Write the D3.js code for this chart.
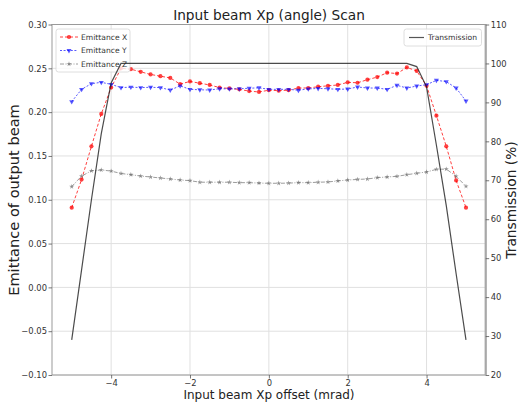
<!DOCTYPE html>
<html><head><meta charset="utf-8">
<script src="https://cdn.jsdelivr.net/npm/d3@7"></script>
<style>
html,body{margin:0;padding:0;background:#fff;}
svg{display:block;font-family:"DejaVu Sans",sans-serif;}
</style></head>
<body><svg id="c" width="518" height="409"></svg>
<script>
const offsets = [-5,-4.75,-4.5,-4.25,-4,-3.75,-3.5,-3.25,-3,-2.75,-2.5,-2.25,-2,-1.75,-1.5,-1.25,-1,-0.75,-0.5,-0.25,0,0.25,0.5,0.75,1,1.25,1.5,1.75,2,2.25,2.5,2.75,3,3.25,3.5,3.75,4,4.25,4.5,4.75,5];
const emitX = [0.091,0.123,0.161,0.198,0.228,0.250,0.249,0.246,0.243,0.241,0.239,0.232,0.235,0.233,0.231,0.228,0.227,0.226,0.224,0.223,0.225,0.2245,0.225,0.2275,0.2275,0.229,0.230,0.231,0.234,0.2335,0.237,0.240,0.245,0.244,0.251,0.247,0.230,0.196,0.161,0.122,0.091];
const emitY = [0.212,0.226,0.2325,0.234,0.2317,0.228,0.2285,0.228,0.2283,0.228,0.2252,0.230,0.226,0.2255,0.2252,0.2267,0.2265,0.2267,0.2272,0.2278,0.226,0.226,0.226,0.225,0.2265,0.227,0.2267,0.226,0.2264,0.2287,0.2275,0.2275,0.226,0.2306,0.2275,0.2298,0.2313,0.2363,0.2348,0.2275,0.2127];
const emitZ = [0.115,0.127,0.133,0.134,0.1327,0.130,0.1286,0.127,0.126,0.1248,0.1237,0.1225,0.1218,0.120,0.120,0.120,0.120,0.1195,0.1195,0.119,0.1188,0.1188,0.119,0.1195,0.1195,0.120,0.1203,0.1215,0.1225,0.1232,0.1237,0.1252,0.126,0.1267,0.1286,0.1302,0.1317,0.1347,0.135,0.1268,0.1153];
const transmission = [29,47,65,82,95,100,100,100,100,100,100,100,100,100,100,100,100,100,100,100,100,100,100,100,100,100,100,100,100,100,100,100,100,100,100,99.2,94,79,63.5,46,29];
const xTicks = [-4,-2,0,2,4];
const yLeftTicks = [-0.10,-0.05,0.00,0.05,0.10,0.15,0.20,0.25,0.30];
const yRightTicks = [20,30,40,50,60,70,80,90,100,110];
const legendLeft = ["Emittance X","Emittance Y","Emittance Z"];

const svg = d3.select("#c");
const L = 52, R = 485.7, T = 24.5, B = 375;
const x = d3.scaleLinear().domain([-5.5,5.5]).range([L,R]);
const yL = d3.scaleLinear().domain([-0.10,0.30]).range([B,T]);
const yR = d3.scaleLinear().domain([20,110]).range([B,T]);
const fmtMinus = s => s.replace("-", "\u2212");

// grid
const g = svg.append("g");
g.selectAll(".gx").data(xTicks).join("line")
  .attr("x1", d=>x(d)).attr("x2", d=>x(d)).attr("y1", T).attr("y2", B)
  .attr("stroke", "#e0e0e0").attr("stroke-width", 1);
g.selectAll(".gy").data(yLeftTicks).join("line")
  .attr("y1", d=>yL(d)).attr("y2", d=>yL(d)).attr("x1", L).attr("x2", R)
  .attr("stroke", "#e0e0e0").attr("stroke-width", 1);

// series
const series = [
  {vals: emitX, color:"rgba(255,0,0,0.75)", dash:"3,2", marker:"circle"},
  {vals: emitY, color:"rgba(0,0,255,0.65)", dash:"2,1.6", marker:"tri"},
  {vals: emitZ, color:"rgba(90,90,90,0.6)", dash:"4,1.5,1,1.5", marker:"star"}
];
const line = vals => d3.line().x((d,i)=>x(offsets[i])).y(d=>yL(d))(vals);
function drawMarker(sel, type, color){
  if(type==="circle") sel.append("circle").attr("r",2.1).attr("fill",color);
  else if(type==="tri") sel.append("path").attr("d", d3.symbol().type(d3.symbolTriangle).size(11)()).attr("transform","rotate(180)").attr("fill",color);
  else sel.append("path").attr("d", d3.symbol().type(d3.symbolStar).size(8)()).attr("fill",color);
}
series.forEach(s=>{
  svg.append("path").attr("d", line(s.vals)).attr("fill","none")
    .attr("stroke", s.color).attr("stroke-width",1).attr("stroke-dasharray", s.dash);
  s.vals.forEach((v,i)=>{
    const m = svg.append("g").attr("transform",`translate(${x(offsets[i])},${yL(v)})`);
    drawMarker(m, s.marker, s.color);
  });
});

// left legend
const lg = svg.append("g");
lg.append("rect").attr("x",56).attr("y",29).attr("width",74).attr("height",43).attr("rx",2.5)
  .attr("fill","rgba(255,255,255,0.8)").attr("stroke","#d6d6d6").attr("stroke-width",0.8);
legendLeft.forEach((name,i)=>{
  const yy = 37 + i*13.5;
  const s = series[i];
  lg.append("line").attr("x1",60).attr("x2",78).attr("y1",yy).attr("y2",yy)
    .attr("stroke", s.color).attr("stroke-width",1).attr("stroke-dasharray", s.dash);
  const m = lg.append("g").attr("transform",`translate(69,${yy})`);
  drawMarker(m, s.marker, s.color);
  lg.append("text").attr("x",81).attr("y",yy+2.7).attr("font-size",7.6).attr("fill","#333").text(name);
});

// transmission line (twin axis, drawn over left legend)
svg.append("path").attr("d", d3.line().x((d,i)=>x(offsets[i])).y(d=>yR(d))(transmission))
  .attr("fill","none").attr("stroke","rgba(30,30,30,0.8)").attr("stroke-width",1.2);

// right legend
const rg = svg.append("g");
rg.append("rect").attr("x",404).attr("y",29).attr("width",77.5).attr("height",17).attr("rx",2.5)
  .attr("fill","rgba(255,255,255,0.8)").attr("stroke","#d6d6d6").attr("stroke-width",0.8);
rg.append("line").attr("x1",409).attr("x2",424).attr("y1",37.5).attr("y2",37.5)
  .attr("stroke","rgba(30,30,30,0.75)").attr("stroke-width",1.2);
rg.append("text").attr("x",428).attr("y",40.2).attr("font-size",7.6).attr("fill","#333").text("Transmission");

// spines
svg.append("rect").attr("x",L).attr("y",T).attr("width",R-L).attr("height",B-T)
  .attr("fill","none").attr("stroke","#9a9a9a").attr("stroke-width",1);
svg.append("line").attr("x1",R).attr("x2",R).attr("y1",T).attr("y2",B).attr("stroke","#a8a8a8").attr("stroke-width",2.2);

// axes
function styleAxis(a){
  a.select(".domain").remove();
  a.selectAll(".tick line").attr("stroke","#555").attr("stroke-width",0.8);
  a.selectAll(".tick text").attr("fill","#333").attr("font-size",8.4).attr("font-family","DejaVu Sans");
}
const ax = svg.append("g").attr("transform",`translate(0,${B})`)
  .call(d3.axisBottom(x).tickValues(xTicks).tickSize(3.5).tickPadding(2).tickFormat(d=>fmtMinus(d3.format("d")(d))));
styleAxis(ax);
const ayl = svg.append("g").attr("transform",`translate(${L},0)`)
  .call(d3.axisLeft(yL).tickValues(yLeftTicks).tickSize(3.5).tickPadding(1.5).tickFormat(d=>fmtMinus(d3.format(".2f")(d))));
styleAxis(ayl);
const ayr = svg.append("g").attr("transform",`translate(${R},0)`)
  .call(d3.axisRight(yR).tickValues(yRightTicks).tickSize(3.5).tickPadding(1.5).tickFormat(d3.format("d")));
styleAxis(ayr);

// labels
svg.append("text").attr("x",269).attr("y",20).attr("text-anchor","middle").attr("font-size",13.7).attr("fill","#222").text("Input beam Xp (angle) Scan");
svg.append("text").attr("x",269).attr("y",399).attr("text-anchor","middle").attr("font-size",12).attr("fill","#222").text("Input beam Xp offset (mrad)");
svg.append("text").attr("transform","translate(19,200) rotate(-90)").attr("text-anchor","middle").attr("font-size",14.6).attr("fill","#222").text("Emittance of output beam");
svg.append("text").attr("transform","translate(516,200) rotate(-90)").attr("text-anchor","middle").attr("font-size",13.8).attr("fill","#222").text("Transmission (%)");
</script></body></html>
